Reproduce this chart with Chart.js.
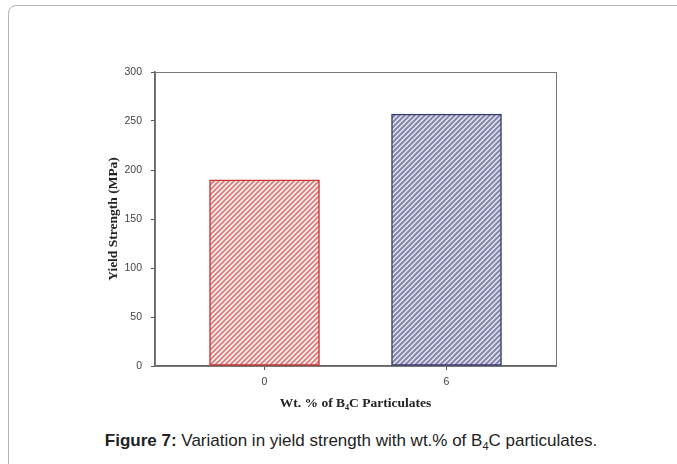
<!DOCTYPE html>
<html>
<head>
<meta charset="utf-8">
<script src="https://cdn.jsdelivr.net/npm/chart.js@4.4.1/dist/chart.umd.min.js"></script>
<style>
  html, body { margin: 0; padding: 0; background: #fff; }
  body { width: 677px; height: 464px; position: relative; overflow: hidden; }
  #frame {
    position: absolute; left: 8px; top: 5px; width: 700px; height: 500px;
    border: 1px solid #b4b4b4; border-radius: 8px; box-sizing: border-box;
  }
  #wrap { position: absolute; left: 0; top: 0; width: 677px; height: 425px; }
  #caption {
    position: absolute; left: 0; width: 702px; top: 431px; text-align: center;
    font-family: "Liberation Sans", Arial, sans-serif; font-size: 17px; color: #222;
    white-space: nowrap;
  }
  #caption sub { font-size: 11px; vertical-align: -4px; line-height: 0; }
</style>
</head>
<body>
<div id="frame"></div>
<div id="wrap"><canvas id="grafico"></canvas></div>
<div id="caption"><b>Figure 7:</b> Variation in yield strength with wt.% of B<sub>4</sub>C particulates.</div>
<script>
// dados do gráfico
const categorias = [0, 6];                 // Wt. % de B4C
const resistencia = [190, 257];            // Yield strength (MPa)
const ticksY = [0, 50, 100, 150, 200, 250, 300];

function hachura(corLinha, corFundo, largura) {
    const n = 5;
    const c = document.createElement('canvas');
    c.width = n; c.height = n;
    const g = c.getContext('2d');
    g.fillStyle = corFundo;
    g.fillRect(0, 0, n, n);
    g.strokeStyle = corLinha;
    g.lineWidth = largura;
    g.beginPath();
    g.moveTo(-1, n + 1); g.lineTo(n + 1, -1);
    g.moveTo(-1, 1); g.lineTo(1, -1);
    g.moveTo(n - 1, n + 1); g.lineTo(n + 1, n - 1);
    g.stroke();
    return g.createPattern(c, 'repeat');
}

const ctx = document.getElementById('grafico').getContext('2d');

// moldura do gráfico (topo e direita)
const moldura = {
    id: 'moldura',
    afterDraw(chart) {
        const a = chart.chartArea, g = chart.ctx;
        g.save();
        g.strokeStyle = '#777';
        g.lineWidth = 1;
        g.strokeRect(a.left + 0.5, a.top + 0.5, a.right - a.left, a.bottom - a.top);
        g.restore();
    }
};

new Chart(ctx, {
    type: 'bar',
    data: {
        datasets: [{
            data: categorias.map((c, i) => ({ x: c, y: resistencia[i] })),
            backgroundColor: [
                hachura('#dc7a7a', '#fbeeee', 1.7),
                hachura('#8585ac', '#e6e6ef', 2.0)
            ],
            borderColor: ['#cc3333', '#3a3a75'],
            borderWidth: 1.5,
            borderSkipped: false,
            barThickness: 110
        }]
    },
    plugins: [moldura],
    options: {
        responsive: true,
        maintainAspectRatio: false,
        animation: false,
        layout: { padding: { left: 95, top: 72, right: 121, bottom: 9 } },
        plugins: { legend: { display: false }, tooltip: { enabled: false } },
        scales: {
            x: {
                type: 'linear',
                min: -3.61,
                max: 9.61,
                offset: false,
                afterBuildTicks: s => { s.ticks = categorias.map(v => ({ value: v })); },
                afterFit: s => { s.height = 50; },
                border: { color: '#666', width: 1.5 },
                grid: { offset: false, drawOnChartArea: false, tickLength: 4, color: '#555' },
                ticks: {
                    padding: 6,
                    color: '#444',
                    font: { family: 'Liberation Sans', size: 10.5 }
                },
                title: {
                    display: true,
                    text: 'Wt. % of B₄C Particulates',
                    color: '#222',
                    padding: { top: 5 },
                    font: { family: 'Liberation Serif', size: 13.5, weight: 'bold' }
                }
            },
            y: {
                min: 0,
                max: 300,
                afterBuildTicks: s => { s.ticks = ticksY.map(v => ({ value: v })); },
                afterFit: s => { s.width = 60; },
                border: { color: '#666', width: 1.5 },
                grid: { drawOnChartArea: false, tickLength: 4, color: '#555' },
                ticks: {
                    padding: 9,
                    color: '#444',
                    font: { family: 'Liberation Sans', size: 10.5 }
                },
                title: {
                    display: true,
                    text: 'Yield Strength (MPa)',
                    color: '#222',
                    padding: { top: 10 },
                    font: { family: 'Liberation Serif', size: 13.5, weight: 'bold' }
                }
            }
        }
    }
});
</script>
</body>
</html>
